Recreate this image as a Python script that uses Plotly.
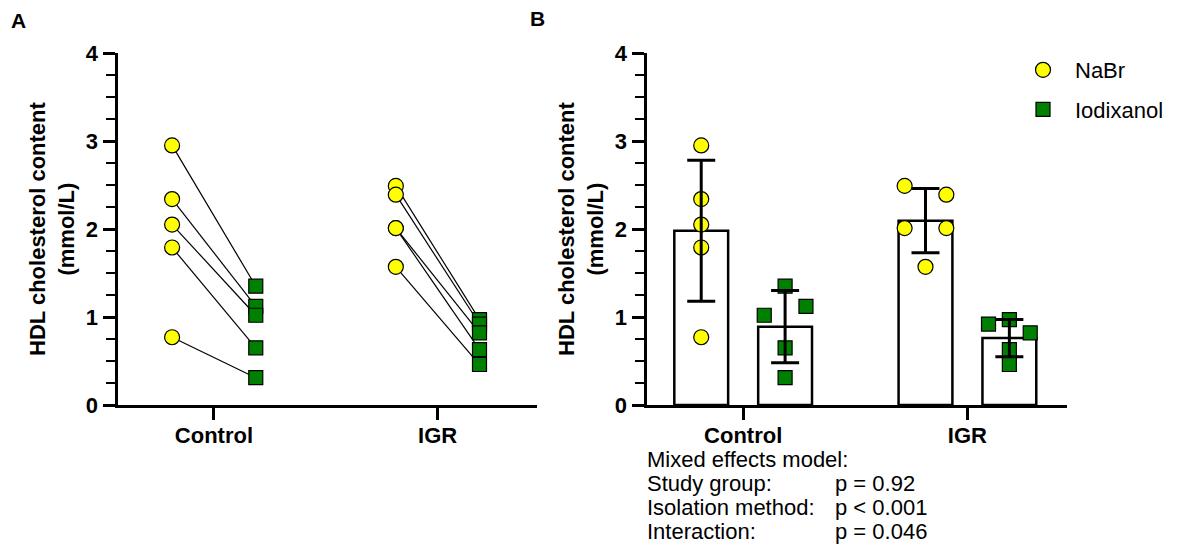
import numpy as np
import plotly.graph_objects as go

# ---------------- data ----------------
groups = ["Control", "IGR"]
methods = ["NaBr", "Iodixanol"]
control_nabr = [2.95, 2.34, 2.05, 1.79, 0.77]
control_iodix = [1.35, 1.12, 1.02, 0.65, 0.31]
igr_nabr = [2.49, 2.39, 2.01, 2.01, 1.57]
igr_iodix = [0.97, 0.92, 0.82, 0.63, 0.46]
# jitter slots for dot plot in panel B (-1 left, 0 centre, +1 right)
jit_control_nabr = [0, 0, 0, 0, 0]
jit_control_iodix = [0, 1, -1, 0, 0]
jit_igr_nabr = [-1, 1, -1, 1, 0]
jit_igr_iodix = [0, -1, 1, 0, 0]
y_ticks = [0, 1, 2, 3, 4]
stats_labels = ["Mixed effects model:", "Study group:", "Isolation method:", "Interaction:"]
stats_values = ["", "p = 0.92", "p < 0.001", "p = 0.046"]

# ---------------- style ----------------
FONT = "Liberation Sans, Arial, sans-serif"
YELLOW = "#FFFF00"
GREEN = "#008000"
OFF = 0.187
JSTEP = 0.093
PAGE = 8                      # default body margin of the html page
W, H = 1178 - PAGE, 557 - PAGE
TOP, BOT = 53 - PAGE, 405 - PAGE


def fx(p):
    """screen x pixel -> paper x"""
    return (p - PAGE) / W


def fy(p):
    """screen y pixel -> paper y"""
    return (BOT - (p - PAGE)) / (BOT - TOP)


data = {
    ("Control", "NaBr"): (control_nabr, jit_control_nabr),
    ("Control", "Iodixanol"): (control_iodix, jit_control_iodix),
    ("IGR", "NaBr"): (igr_nabr, jit_igr_nabr),
    ("IGR", "Iodixanol"): (igr_iodix, jit_igr_iodix),
}
style = {
    "NaBr": dict(symbol="circle", color=YELLOW, size=15, offset=-OFF),
    "Iodixanol": dict(symbol="square", color=GREEN, size=14, offset=OFF),
}

fig = go.Figure()

# ---------------- panel A ----------------
for gi, g in enumerate(groups):
    a = data[(g, "NaBr")][0]
    b = data[(g, "Iodixanol")][0]
    for va, vb in zip(a, b):
        fig.add_trace(go.Scatter(
            x=[gi - OFF, gi + OFF], y=[va, vb], mode="lines",
            line=dict(color="black", width=1.2), showlegend=False,
            hoverinfo="skip", xaxis="x", yaxis="y"))
for m in methods:
    st = style[m]
    xs, ys = [], []
    for gi, g in enumerate(groups):
        vals = data[(g, m)][0]
        xs += [gi + st["offset"]] * len(vals)
        ys += vals
    fig.add_trace(go.Scatter(
        x=xs, y=ys, mode="markers", showlegend=False,
        marker=dict(symbol=st["symbol"], color=st["color"], size=st["size"],
                    line=dict(color="black", width=1.2)),
        xaxis="x", yaxis="y"))

# ---------------- panel B ----------------
for m in methods:
    st = style[m]
    means = [np.mean(data[(g, m)][0]) for g in groups]
    fig.add_trace(go.Bar(
        x=[gi + st["offset"] for gi in range(len(groups))], y=means, width=0.24,
        marker=dict(color="white", line=dict(color="black", width=2.5)),
        showlegend=False, xaxis="x2", yaxis="y2"))
for m in methods:
    st = style[m]
    xs, ys = [], []
    for gi, g in enumerate(groups):
        vals, jit = data[(g, m)]
        xs += [gi + st["offset"] + j * JSTEP for j in jit]
        ys += vals
    fig.add_trace(go.Scatter(
        x=xs, y=ys, mode="markers", name=m, legendgroup=m,
        marker=dict(symbol=st["symbol"], color=st["color"], size=st["size"],
                    line=dict(color="black", width=1.2)),
        xaxis="x2", yaxis="y2"))
for m in methods:
    st = style[m]
    means = [np.mean(data[(g, m)][0]) for g in groups]
    sds = [np.std(data[(g, m)][0], ddof=1) for g in groups]
    fig.add_trace(go.Scatter(
        x=[gi + st["offset"] for gi in range(len(groups))], y=means,
        mode="markers", marker=dict(size=1, color="rgba(0,0,0,0)"),
        error_y=dict(type="data", array=sds, visible=True, color="black",
                     thickness=3, width=14),
        showlegend=False, hoverinfo="skip", xaxis="x2", yaxis="y2"))

# ---------------- axes ----------------
tickfont = dict(family=FONT, size=22, color="black", weight="bold")
xcommon = dict(range=[-0.431, 1.444], tickvals=[0, 1], ticktext=groups,
               showline=True, linewidth=3, linecolor="black", ticks="outside",
               ticklen=12, tickwidth=2.5, tickcolor="black", showgrid=False,
               zeroline=False, tickfont=tickfont, ticklabelstandoff=-3)
ycommon = dict(range=[0, 4], tickvals=y_ticks, showline=True, linewidth=3,
               linecolor="black", ticks="outside", ticklen=12, tickwidth=2.5,
               tickcolor="black", showgrid=False, zeroline=False,
               tickfont=tickfont,
               minor=dict(dtick=0.25, ticks="outside", ticklen=9,
                          tickwidth=2, tickcolor="black", showgrid=False))

fig.update_layout(
    width=W, height=H,
    margin=dict(l=0, r=0, t=TOP, b=H - BOT, pad=0),
    paper_bgcolor="white", plot_bgcolor="white",
    font=dict(family=FONT, size=22, color="black"),
    barmode="overlay",
    xaxis=dict(xcommon, domain=[fx(117.5), fx(537)], anchor="y"),
    yaxis=dict(ycommon, domain=[0, 1], anchor="x"),
    xaxis2=dict(xcommon, domain=[fx(646.5), fx(1067)], anchor="y2"),
    yaxis2=dict(ycommon, domain=[0, 1], anchor="x2"),
    legend=dict(x=fx(1011), y=fy(49), xanchor="left",
                yanchor="top", bgcolor="rgba(0,0,0,0)",
                font=dict(family=FONT, size=22, color="black"),
                tracegroupgap=8, itemwidth=54),
    showlegend=True,
)

ann = []
ytitle = "<b>HDL cholesterol content</b><br><b>(mmol/L)</b>"
for cx in (52, 581):
    ann.append(dict(text=ytitle, x=fx(cx), y=0.5, xref="paper", yref="paper",
                    textangle=-90, showarrow=False, xanchor="center",
                    yanchor="middle", font=dict(family=FONT, size=22)))
for lbl, cx, cy in (("A", 18, 20), ("B", 537, 19)):
    ann.append(dict(text="<b>" + lbl + "</b>", x=fx(cx), y=fy(cy), xref="paper",
                    yref="paper", showarrow=False, xanchor="center",
                    yanchor="middle", font=dict(family=FONT, size=21)))
ys_px = [459, 483, 507, 531]
for lbl, val, yy in zip(stats_labels, stats_values, ys_px):
    ann.append(dict(text=lbl, x=fx(645), y=fy(yy), xref="paper", yref="paper",
                    showarrow=False, xanchor="left", yanchor="middle",
                    font=dict(family=FONT, size=22)))
    if val:
        ann.append(dict(text=val, x=fx(833), y=fy(yy), xref="paper",
                        yref="paper", showarrow=False, xanchor="left",
                        yanchor="middle", font=dict(family=FONT, size=22)))
fig.update_layout(annotations=ann)

fig.write_html("out.html")
